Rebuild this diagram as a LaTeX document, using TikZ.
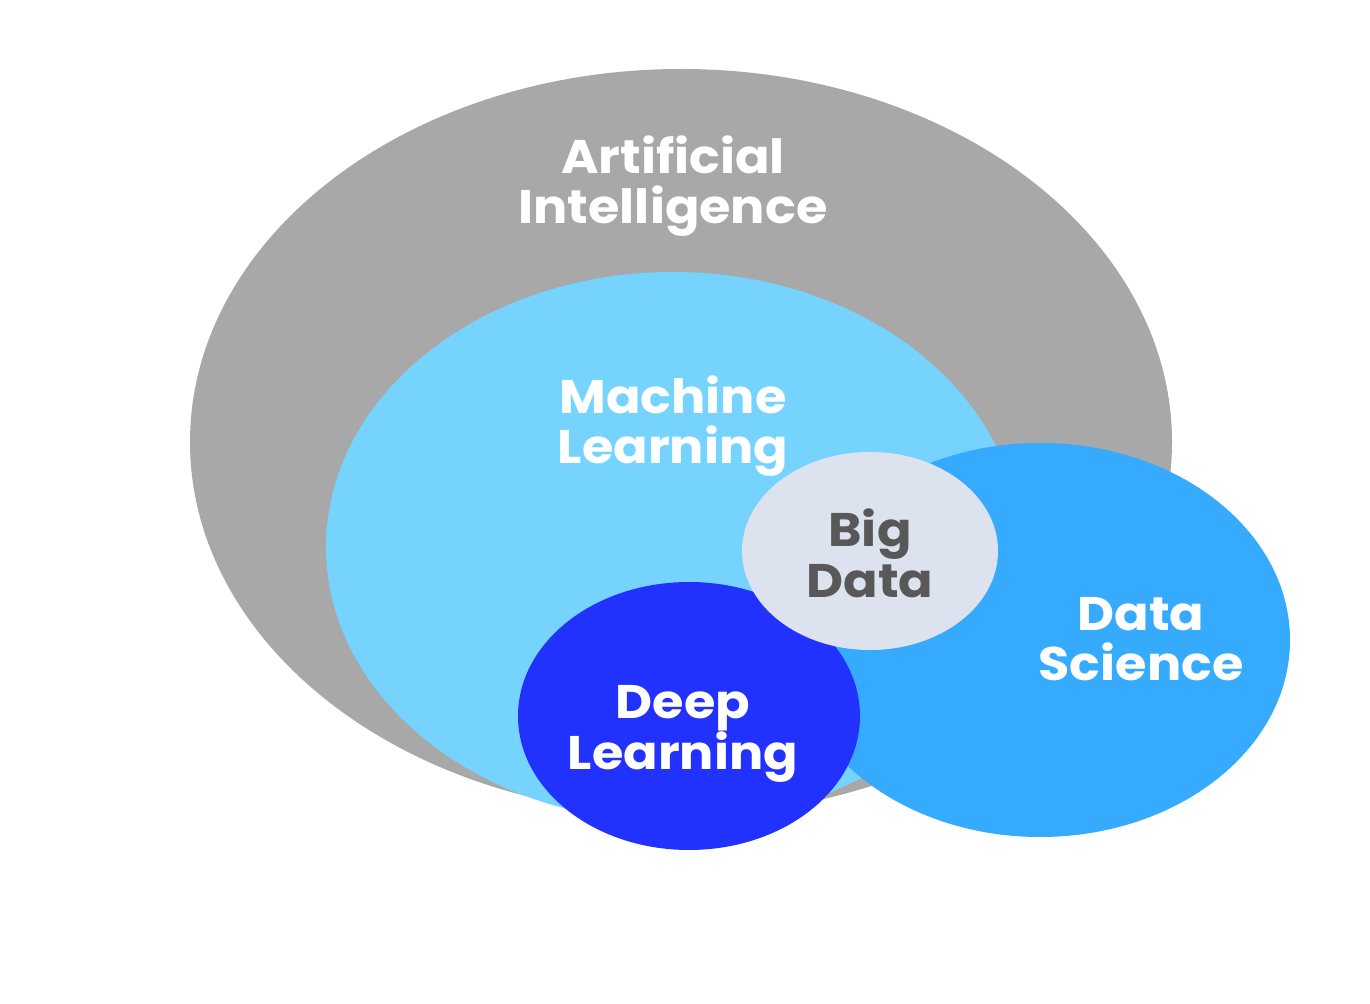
\documentclass[tikz,border=0pt]{standalone}
\usepackage{fontspec}
\setmainfont{Poppins}[FakeStretch=1.08]
\usetikzlibrary{positioning}
\definecolor{aigray}{HTML}{A8A8A8}
\definecolor{mlblue}{HTML}{76D3FE}
\definecolor{dsblue}{HTML}{36ABFE}
\definecolor{dlblue}{HTML}{2232FE}
\definecolor{bdgray}{HTML}{DDE3EE}
\definecolor{bdtext}{HTML}{585858}
\begin{document}
\begin{tikzpicture}[x=0.01cm,y=-0.01cm,
 label/.style={align=center,font=\fontsize{13.4}{14.4}\selectfont\bfseries,text=white},
 darklabel/.style={label,text=bdtext}]
\useasboundingbox (0,0) rectangle (1370,1004);
% the fields, back to front
\fill[aigray] (681,442) ellipse (491 and 373);
\fill[mlblue] (673,547) ellipse (347 and 275);
\fill[dsblue] (1040,640) ellipse (250 and 197);
\fill[dlblue] (689,716) ellipse (171 and 134);
\fill[bdgray] (870,551) ellipse (128 and 99);
% names
\node[label] (ai) at (673,186) {Artificial\\Intelligence};
\node[label] (ml) at (673,426) {Machine\\Learning};
\node[label] (ds) at (1141,639) {Data\\Science};
\node[label] (dl) at (683,734) {Deep\\Learning};
\node[darklabel] (bd) at (870,553) {Big\\Data};
\end{tikzpicture}
\end{document}
